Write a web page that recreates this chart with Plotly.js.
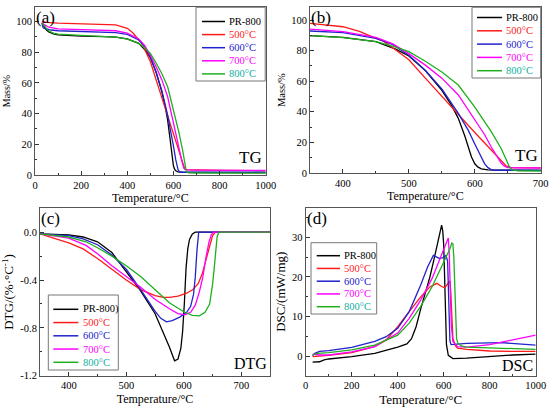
<!DOCTYPE html>
<html><head><meta charset="utf-8">
<script src="https://cdn.plot.ly/plotly-3.0.1.min.js"></script>
<style>html,body{margin:0;padding:0;background:#fff}#chart{width:550px;height:409px}</style>
</head><body><div id="chart"></div>
<script>
// ---------- names / colours ----------
const seriesNames = ['PR-800', '500°C', '600°C', '700°C', '800°C'];
const dtgNames = ['PR-800)', '500°C', '600°C', '700°C', '800°C'];
const lineColors = ['#000000', '#ff1a1a', '#2222cc', '#ff00ff', '#1faf1f'];
const textColors = ['#000000', '#ff1a1a', '#2222cc', '#ff00ff', '#10b0a0'];

// ---------- TG (panels a and b) ----------
const tgT_pr = [30, 40, 50, 60, 80, 100, 150, 200, 300, 350, 400, 450, 480, 500, 525, 550, 565, 575, 585, 590, 595, 600, 605, 610, 620, 640, 700, 800, 1000];
const tgM_pr = [99, 96.5, 94.5, 93.3, 92, 91.3, 90.8, 90.5, 90.2, 89.8, 88.7, 85.8, 81, 76.5, 67, 54, 44, 35.7, 24, 17, 10.5, 6, 3.8, 2.7, 2, 1.8, 1.7, 1.6, 1.6];
const tgT_500 = [30, 50, 100, 200, 300, 350, 400, 425, 450, 460, 475, 500, 525, 550, 575, 600, 625, 640, 648, 655, 700, 800, 1000];
const tgM_500 = [100, 99.5, 99, 98.5, 98, 97.8, 95.6, 92.5, 88, 86.5, 82, 74, 62, 50, 38, 26.5, 15, 8, 4.5, 3.5, 3.3, 3.0, 2.8];
const tgT_600 = [30, 35, 40, 50, 70, 100, 200, 300, 350, 400, 450, 475, 500, 525, 550, 575, 590, 600, 610, 615, 620, 625, 630, 700, 1000];
const tgM_600 = [99, 96, 95.5, 95, 94.5, 94, 93.5, 93.2, 92.8, 91.7, 88, 84, 77, 67, 55, 39, 28, 19, 10, 6, 3.5, 2.2, 1.8, 1.8, 1.8];
const tgT_700 = [30, 40, 60, 100, 200, 300, 350, 400, 450, 475, 500, 525, 550, 575, 600, 615, 625, 635, 640, 645, 650, 660, 700, 1000];
const tgM_700 = [99.5, 98, 96.3, 95.3, 94.8, 94.3, 94, 92.4, 88.7, 84.5, 78, 70.5, 62, 51, 35, 25, 17, 10, 6.5, 4.5, 3.6, 3.3, 3.2, 3.0];
const tgT_800 = [30, 40, 50, 60, 80, 100, 200, 300, 350, 400, 450, 475, 500, 525, 550, 575, 600, 625, 640, 648, 652, 656, 665, 700, 1000];
const tgM_800 = [99, 97, 95, 93.8, 92.5, 91.8, 91, 90.5, 89.8, 88.5, 85.8, 83, 79.3, 73, 66, 57.5, 43, 27, 16, 8.5, 4.5, 2.2, 1.4, 1.3, 1.2];

// ---------- DTG (panel c) ----------
const dtgT_pr = [350, 400, 425, 450, 475, 500, 525, 550, 565, 575, 584, 590, 595, 598, 601, 604, 607, 610, 615, 620, 750];
const dtgD_pr = [-0.014, -0.022, -0.04, -0.08, -0.17, -0.33, -0.49, -0.68, -0.84, -0.96, -1.075, -1.06, -0.97, -0.83, -0.6, -0.3, -0.14, -0.06, -0.015, 0, 0];
const dtgT_500 = [350, 375, 400, 425, 450, 475, 500, 525, 550, 565, 575, 590, 605, 616, 625, 632, 639, 645, 650, 655, 750];
const dtgD_500 = [-0.014, -0.05, -0.09, -0.14, -0.22, -0.31, -0.40, -0.48, -0.53, -0.545, -0.545, -0.535, -0.51, -0.48, -0.43, -0.35, -0.22, -0.1, -0.03, 0, 0];
const dtgT_600 = [350, 400, 425, 450, 475, 500, 525, 550, 560, 570, 580, 593, 605, 612, 617, 620, 623, 626, 750];
const dtgD_600 = [-0.014, -0.028, -0.055, -0.105, -0.19, -0.31, -0.48, -0.66, -0.72, -0.75, -0.74, -0.71, -0.67, -0.62, -0.52, -0.38, -0.15, 0, 0];
const dtgT_700 = [350, 400, 430, 450, 475, 500, 525, 550, 575, 590, 602, 612, 620, 627, 633, 639, 644, 648, 652, 750];
const dtgD_700 = [-0.014, -0.05, -0.11, -0.18, -0.28, -0.37, -0.46, -0.56, -0.64, -0.68, -0.69, -0.67, -0.61, -0.5, -0.38, -0.2, -0.08, -0.02, 0, 0];
const dtgT_800 = [350, 400, 430, 450, 475, 500, 525, 550, 575, 600, 615, 627, 637, 645, 650, 653, 656, 658, 661, 750];
const dtgD_800 = [-0.014, -0.04, -0.08, -0.13, -0.2, -0.28, -0.37, -0.48, -0.59, -0.665, -0.695, -0.70, -0.67, -0.6, -0.44, -0.3, -0.12, -0.04, 0, 0];

// ---------- DSC (panel d) ----------
const dscT_pr = [30, 60, 80, 100, 200, 300, 400, 440, 460, 480, 500, 520, 540, 560, 575, 585, 591, 596, 600, 603, 607, 612, 620, 640, 700, 800, 900, 1000];
const dscV_pr = [-1.4, -1.3, -0.8, -0.6, 0, 0.8, 2.4, 3.2, 4.5, 7.5, 12, 16, 20, 25, 29, 32, 33, 31.5, 28, 22, 10, 3, 0.3, -0.5, -0.4, 0, 0.4, 0.6];
const dscT_500 = [30, 50, 100, 200, 300, 350, 400, 450, 500, 540, 570, 591, 605, 620, 627, 631, 635, 640, 650, 660, 700, 800, 900, 1000];
const dscV_500 = [0, 0.1, 0.3, 1.0, 2.5, 4.2, 7.5, 11.3, 15, 17.5, 18.4, 17.6, 17.3, 18.5, 19, 16, 9, 4.6, 2.8, 2.1, 1.8, 1.4, 1.3, 1.3];
const dscT_600 = [30, 40, 60, 100, 200, 300, 350, 400, 450, 500, 530, 555, 570, 580, 595, 610, 617, 620, 623, 627, 632, 650, 700, 850, 1000];
const dscV_600 = [0.2, 0.8, 1.3, 1.5, 2.3, 3.8, 5, 7.1, 11.3, 18, 22.5, 25.4, 25, 24.7, 24.8, 25.4, 24, 19, 11, 4, 3, 3.1, 3.3, 3.5, 2.9];
const dscT_700 = [30, 60, 100, 200, 300, 400, 450, 500, 550, 580, 600, 612, 620, 624, 628, 633, 640, 660, 700, 800, 900, 1000];
const dscV_700 = [0.6, 0.4, 0.4, 1.2, 2.5, 5.9, 9.6, 14.2, 19.7, 23.9, 27, 28.8, 29.8, 26, 18, 8, 3.8, 2.5, 2.4, 3.0, 4.2, 5.4];
const dscT_800 = [30, 50, 100, 200, 300, 400, 450, 500, 550, 600, 625, 635, 640, 644, 648, 652, 656, 662, 680, 700, 800, 900, 1000];
const dscV_800 = [0.4, 0.8, 1.0, 1.7, 2.9, 5.4, 8.4, 12.6, 17.6, 23.5, 26.8, 28.5, 28.3, 25, 18, 9, 4.5, 3.3, 2.6, 2.4, 2.2, 2.0, 1.8];

// ---------- tick labels ----------
const dtgTickVals = [-1.2, -0.8, -0.4, 0];
const dtgTickText = ['-1.2', '-0.8', '-0.4', '0.0'];

const tgX = [tgT_pr, tgT_500, tgT_600, tgT_700, tgT_800];
const tgY = [tgM_pr, tgM_500, tgM_600, tgM_700, tgM_800];
const dtgX = [dtgT_pr, dtgT_500, dtgT_600, dtgT_700, dtgT_800];
const dtgY = [dtgD_pr, dtgD_500, dtgD_600, dtgD_700, dtgD_800];
const dscX = [dscT_pr, dscT_500, dscT_600, dscT_700, dscT_800];
const dscY = [dscV_pr, dscV_500, dscV_600, dscV_700, dscV_800];

// ---------- layout helpers ----------
const W = 550, H = 409;
const FONT = 'Liberation Serif';
const px = v => v / W;
const py = v => 1 - v / H;
const dx = (a, b) => [a / W, b / W];
const dy = (top, bot) => [1 - bot / H, 1 - top / H];

const traces = [];
function addSet(xs, ys, xa, ya) {
  for (let i = 0; i < xs.length; i++) {
    traces.push({x: xs[i], y: ys[i], xaxis: xa, yaxis: ya, type: 'scatter', mode: 'lines',
      line: {color: lineColors[i], width: 1.3}, name: seriesNames[i], showlegend: false, hoverinfo: 'skip'});
  }
}
addSet(tgX, tgY, 'x', 'y');
addSet(tgX, tgY, 'x2', 'y2');
addSet(dtgX, dtgY, 'x3', 'y3');
addSet(dscX, dscY, 'x4', 'y4');

function ax(domain, range, dtick, minorDtick, tfs, anchor, title, titleSize, standoff, extra) {
  return Object.assign({
    domain: domain, range: range, dtick: dtick, tick0: 0, anchor: anchor,
    ticks: 'inside', ticklen: 4, tickwidth: 1, tickcolor: '#333',
    showline: true, linecolor: '#555', linewidth: 1, mirror: true,
    showgrid: false, zeroline: false, automargin: false, fixedrange: true,
    tickfont: {family: FONT, size: tfs, color: '#000'},
    minor: {ticks: 'inside', ticklen: 2, dtick: minorDtick, tickcolor: '#333', showgrid: false},
    title: {text: title, font: {family: FONT, size: titleSize, color: '#000'}, standoff: standoff}
  }, extra || {});
}

const layout = {
  width: W, height: H, margin: {l: 0, r: 0, t: 0, b: 0},
  paper_bgcolor: '#fff', plot_bgcolor: '#fff', showlegend: false,
  font: {family: FONT, color: '#000'},
  xaxis: ax(dx(35, 265.7), [0, 1000], 200, 100, 10.5, 'y', 'Temperature/°C', 12, 4),
  yaxis: ax(dy(7.3, 175), [0, 109.3], 20, 10, 10.5, 'x', 'Mass/%', 10, 3),
  xaxis2: ax(dx(310, 540.7), [350, 700], 100, 50, 10.5, 'y2', 'Temperature/°C', 12, 4),
  yaxis2: ax(dy(7.3, 173), [0, 108.3], 20, 10, 10.5, 'x2', 'Mass/%', 10.5, 3),
  xaxis3: ax(dx(40, 270), [350, 750], 100, 50, 10.5, 'y3', 'Temperature/°C', 12, 4),
  yaxis3: ax(dy(208.3, 375.7), [-1.2, 0.2], 0.4, 0.2, 10.5, 'x3', 'DTG/(%·°C<sup>-1</sup>)', 13, 4,
    {tickmode: 'array', tickvals: dtgTickVals, ticktext: dtgTickText}),
  xaxis4: ax(dx(305.7, 535.7), [0, 1000], 200, 100, 10.5, 'y4', 'Temperature/°C', 13, 4),
  yaxis4: ax(dy(207.7, 375.7), [-4.8, 37.4], 10, 5, 10.5, 'x4', 'DSC/(mW/mg)', 13, 3),
  shapes: [], annotations: []
};

function label(text, x, y, xanchor, yanchor, size) {
  layout.annotations.push({text: text, xref: 'paper', yref: 'paper', x: px(x), y: py(y),
    xanchor: xanchor, yanchor: yanchor, showarrow: false, borderpad: 0,
    font: {family: FONT, size: size, color: '#000'}});
}
label('(a)', 35, 7, 'left', 'top', 17);
label('(b)', 310, 7, 'left', 'top', 17);
label('(c)', 40, 208, 'left', 'top', 17);
label('(d)', 306, 208, 'left', 'top', 17);
label('TG', 263, 168, 'right', 'bottom', 17);
label('TG', 539, 166, 'right', 'bottom', 17);
label('DTG', 268, 373, 'right', 'bottom', 16);
label('DSC', 534, 375, 'right', 'bottom', 16);

// manual legends (Origin-style compact rows)
function legend(names, box, lx1, lx2, tx, row0, step) {
  layout.shapes.push({type: 'rect', xref: 'paper', yref: 'paper', x0: px(box[0]), x1: px(box[1]),
    y0: py(box[3]), y1: py(box[2]), line: {color: '#777', width: 1}, fillcolor: '#fff', layer: 'above'});
  for (let i = 0; i < names.length; i++) {
    const yy = row0 + i * step;
    layout.shapes.push({type: 'line', xref: 'paper', yref: 'paper', x0: px(lx1), x1: px(lx2),
      y0: py(yy), y1: py(yy), line: {color: lineColors[i], width: 1.5}, layer: 'above'});
    layout.annotations.push({text: names[i], xref: 'paper', yref: 'paper', x: px(tx), y: py(yy),
      xanchor: 'left', yanchor: 'middle', showarrow: false, borderpad: 0,
      font: {family: FONT, size: 10.5, color: textColors[i]}});
  }
}
legend(seriesNames, [196, 265.2, 7.3, 81], 202, 225, 228, 21.5, 13.1);
legend(seriesNames, [472, 540.7, 7.3, 78], 477, 502, 505, 17.5, 13.3);
legend(dtgNames, [48.3, 118.3, 295, 370], 53.3, 78.3, 81.5, 309.3, 13.25);
legend(seriesNames, [311, 376.7, 242.7, 314], 316.7, 340, 343.3, 255.7, 12.75);

Plotly.newPlot('chart', traces, layout, {displayModeBar: false, staticPlot: true});
</script>
</body></html>
